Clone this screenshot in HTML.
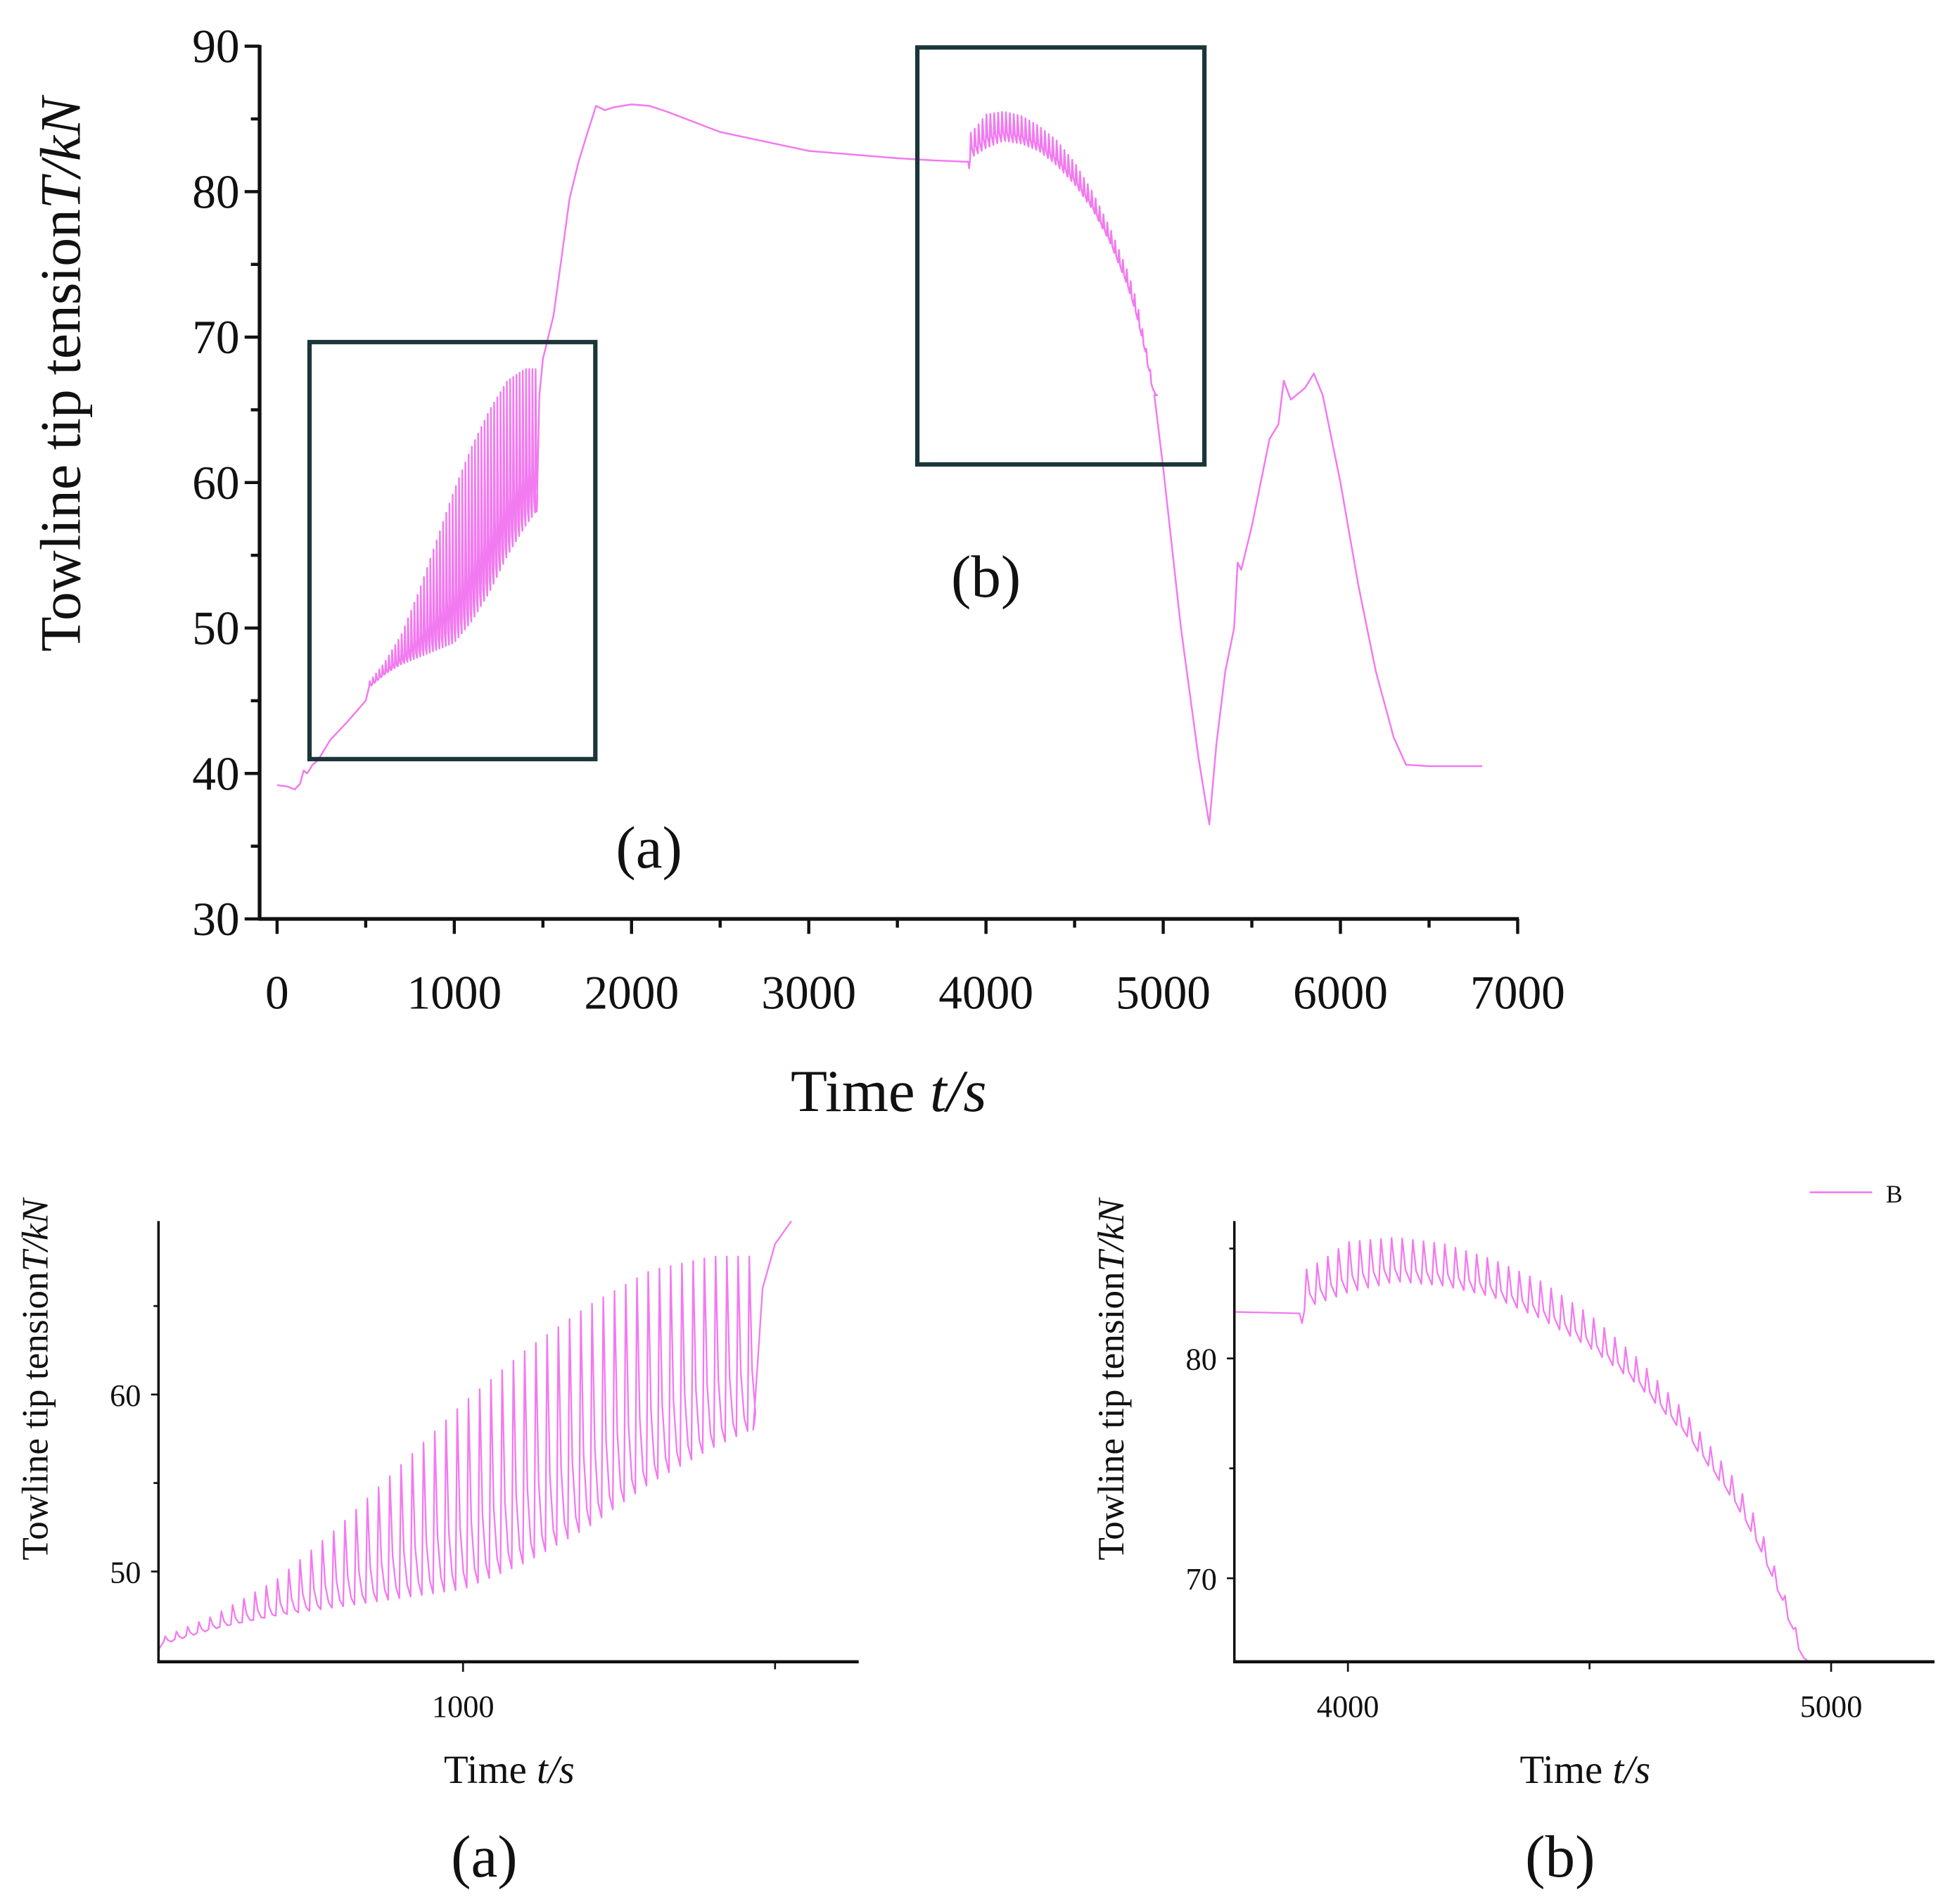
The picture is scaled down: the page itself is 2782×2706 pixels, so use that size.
<!DOCTYPE html>
<html><head><meta charset="utf-8"><style>
html,body{margin:0;padding:0;background:#fff;overflow:hidden;width:2782px;height:2706px;}
svg{display:block;}
text{font-family:"Liberation Serif",serif;fill:#111;}
</style></head><body>
<svg id="fig" width="2782" height="2706" viewBox="0 0 1568 1525" preserveAspectRatio="none" xmlns="http://www.w3.org/2000/svg">
<g id="main"></g>
<g id="insa"></g>
<g id="insb"></g>
</svg>
<script>
// base (non-oscillating) curve: time / tension
const baseT = [0,60,100,130,150,170,200,230,260,300,400,500,600,1465,1480,1500,1530,1560,1600,1650,1700,1750,1800,1850,1900,2000,2100,2200,2500,3000,3500,3700,3900,3905,3910];
const baseV = [39.2,39.1,38.9,39.3,40.2,40.0,40.6,40.9,41.5,42.3,43.6,45.0,46.3,58,66,68.5,70,71.5,75,79.5,82,84,85.9,85.6,85.8,86,85.9,85.5,84.1,82.8,82.3,82.15,82.05,81.6,82.2];
const tailT = [4950,5000,5100,5200,5260,5300,5350,5400,5420,5440,5500,5600,5650,5680,5720,5800,5850,5900,6000,6100,6200,6300,6370,6500,6800];
const tailV = [66,61,50,41,36.5,42,47,50,54.5,54,57,63,64,67,65.7,66.5,67.5,66,60,53,47,42.5,40.6,40.5,40.5];
// oscillation region A envelopes
const envAT = [520,600,700,800,900,1000,1100,1200,1300,1400,1460];
const envAUp = [46.3,47.5,49.5,52.5,56,59.5,62.5,65,67,67.8,67.8];
const envALo = [46,46.8,47.5,48,48.5,49,50.5,52.5,55,57,58];
const periodA = [18];
// oscillation region B envelopes
const envBT = [3910,3950,4000,4100,4200,4300,4400,4500,4600,4700,4800,4850,4900,4950];
const envBUp = [84,84.5,85.3,85.5,85.2,84.5,83.5,82,80,77.5,74.5,72.5,69.5,66.2];
const envBLo = [82.3,82.6,83,83.5,83.3,82.8,81.8,80.5,78.8,76.5,73.5,71.5,69,66];
const periodB = [22];
const mainXTicks = [0,1000,2000,3000,4000,5000,6000,7000];
const mainYTicks = [30,40,50,60,70,80,90];

const NS="http://www.w3.org/2000/svg";
const COL="#f27af0";
function mk(tag,attrs,parent,txt){const e=document.createElementNS(NS,tag);for(const k in attrs)e.setAttribute(k,attrs[k]);if(txt!==undefined)e.textContent=txt;parent.appendChild(e);return e;}
function interp(xs,ys,x){if(x<=xs[0])return ys[0];for(let i=1;i<xs.length;i++){if(x<=xs[i]){const f=(x-xs[i-1])/(xs[i]-xs[i-1]);return ys[i-1]+f*(ys[i]-ys[i-1]);}}return ys[ys.length-1];}
function buildSeries(){
  const pts=[];
  for(let i=0;i<baseT.length;i++){ if(baseT[i]<envAT[0]) pts.push([baseT[i],baseV[i]]); }
  const pA=periodA[0];
  for(let t=envAT[0];t<=envAT[envAT.length-1];t+=pA){
    const lo=interp(envAT,envALo,t), up=interp(envAT,envAUp,t+pA*0.15);
    pts.push([t,lo]);pts.push([t+pA*0.15,up]);
    pts.push([t+pA*0.4,lo+(up-lo)*0.35]);pts.push([t+pA*0.7,lo+(up-lo)*0.1]);
  }
  for(let i=0;i<baseT.length;i++){ if(baseT[i]>envAT[envAT.length-1]) pts.push([baseT[i],baseV[i]]); }
  const pB=periodB[0];
  for(let t=envBT[0];t<=envBT[envBT.length-1];t+=pB){
    const up=interp(envBT,envBUp,t+pB*0.2), lo=interp(envBT,envBLo,t+pB);
    pts.push([t+pB*0.2,up]);pts.push([t+pB*0.5,lo+(up-lo)*0.3]);pts.push([t+pB,lo]);
  }
  for(let i=0;i<tailT.length;i++) pts.push([tailT[i],tailV[i]]);
  return pts;
}
const series=buildSeries();

function axes(g,cfg){
  const sx=t=>cfg.x0+(t-cfg.tmin)/(cfg.tmax-cfg.tmin)*(cfg.x1-cfg.x0);
  const sy=v=>cfg.y1-(v-cfg.vmin)/(cfg.vmax-cfg.vmin)*(cfg.y1-cfg.y0);
  return {sx,sy};
}
function drawLine(g,sx,sy,clipId,box,w){
  const cp=mk('clipPath',{id:clipId},g);mk('rect',{x:box[0],y:box[1],width:box[2],height:box[3]},cp);
  let d="";series.forEach((p)=>{d+=(d?"L":"M")+sx(p[0]).toFixed(2)+","+sy(p[1]).toFixed(2);});
  const pth=mk('path',{d:d,fill:"none",stroke:COL,"stroke-width":w,"clip-path":"url(#"+clipId+")","stroke-linejoin":"round"},g);
  
  
}

// MAIN
(function(){
  const g=document.getElementById('main');
  const {sx,sy}=axes(g,{x0:222,x1:1216,y0:37,y1:736,tmin:0,tmax:7000,vmin:30,vmax:90});
  drawLine(g,sx,sy,'clipMain',[209,20,1010,716],1.4);
  mk('line',{x1:208,y1:36,x2:208,y2:737,stroke:"#111","stroke-width":3},g);
  mk('line',{x1:207,y1:736,x2:1217,y2:736,stroke:"#111","stroke-width":3},g);
  mainYTicks.forEach(v=>{const y=sy(v);mk('line',{x1:196,y1:y,x2:208,y2:y,stroke:"#111","stroke-width":2.5},g);
    const t=mk('text',{x:192,y:y+13,"text-anchor":"end","font-size":38},g,String(v));});
  for(let v=35;v<90;v+=10){const y=sy(v);mk('line',{x1:201,y1:y,x2:208,y2:y,stroke:"#111","stroke-width":2.5},g);}
  mainXTicks.forEach(v=>{const x=sx(v);mk('line',{x1:x,y1:736,x2:x,y2:748,stroke:"#111","stroke-width":2.5},g);
    const t=mk('text',{x:x,y:808,"text-anchor":"middle","font-size":38},g,String(v));});
  for(let v=500;v<7000;v+=1000){const x=sx(v);mk('line',{x1:x,y1:736,x2:x,y2:743,stroke:"#111","stroke-width":2.5},g);}
  const yt=mk('text',{transform:"translate(64,300) rotate(-90)","text-anchor":"middle","font-size":46},g);
  
  yt.innerHTML='Towline tip tension<tspan font-style="italic">T/kN</tspan>';
  const xt=mk('text',{x:712,y:890,"text-anchor":"middle","font-size":48},g);
  
  xt.innerHTML='Time <tspan font-style="italic">t/s</tspan>';
  const ra=mk('rect',{x:248,y:274,width:229,height:334,fill:"none",stroke:"#1b3538","stroke-width":3.5},g);
  const rb=mk('rect',{x:735,y:38,width:230,height:334,fill:"none",stroke:"#1b3538","stroke-width":3.5},g);
  const la=mk('text',{x:520,y:695,"text-anchor":"middle","font-size":48},g,'(a)');
  const lb=mk('text',{x:790,y:478,"text-anchor":"middle","font-size":48},g,'(b)');
})();

function inset(id,cfg){
  const g=document.getElementById(id);
  const {sx,sy}=axes(g,cfg);
  drawLine(g,sx,sy,'clip'+id,[cfg.x0,cfg.y0,cfg.x1-cfg.x0,cfg.y1-cfg.y0],1.3);
  mk('line',{x1:cfg.x0,y1:cfg.y0,x2:cfg.x0,y2:cfg.y1+1,stroke:"#111","stroke-width":2},g);
  mk('line',{x1:cfg.x0-1,y1:cfg.y1,x2:cfg.x1,y2:cfg.y1,stroke:"#111","stroke-width":2.5},g);
  cfg.yt.forEach(v=>{const y=sy(v);mk('line',{x1:cfg.x0-6,y1:y,x2:cfg.x0,y2:y,stroke:"#111","stroke-width":1.5},g);
    const t=mk('text',{x:cfg.x0-14,y:y+9,"text-anchor":"end","font-size":25},g,String(v));});
  cfg.ym.forEach(v=>{const y=sy(v);mk('line',{x1:cfg.x0-4,y1:y,x2:cfg.x0,y2:y,stroke:"#111","stroke-width":1.5},g);});
  cfg.xt.forEach(v=>{const x=sx(v);mk('line',{x1:x,y1:cfg.y1,x2:x,y2:cfg.y1+8,stroke:"#111","stroke-width":1.5},g);
    const t=mk('text',{x:x,y:cfg.y1+44,"text-anchor":"middle","font-size":25},g,String(v));});
  cfg.xm.forEach(v=>{const x=sx(v);mk('line',{x1:x,y1:cfg.y1,x2:x,y2:cfg.y1+6,stroke:"#111","stroke-width":1.5},g);});
  const yt=mk('text',{transform:"translate("+(cfg.x0-89)+",1105) rotate(-90)","text-anchor":"middle","font-size":30},g);
  
  yt.innerHTML='Towline tip tension<tspan font-style="italic">T/kN</tspan>';
  const xt=mk('text',{x:cfg.xc,y:1428,"text-anchor":"middle","font-size":32},g);
  
  xt.innerHTML='Time <tspan font-style="italic">t/s</tspan>';
  const l=mk('text',{x:cfg.xc-20,y:1503,"text-anchor":"middle","font-size":48},g,cfg.lab);
  return g;
}
inset('insa',{x0:127,x1:688,y0:978,y1:1331,tmin:512,tmax:1634,vmin:44.9,vmax:69.8,yt:[50,60],ym:[55,65],xt:[1000],xm:[1500],xc:408,lab:'(a)'});
const gb=inset('insb',{x0:989,x1:1550,y0:978,y1:1331,tmin:3765,tmax:5214,vmin:66.2,vmax:86.25,yt:[70,80],ym:[75,85],xt:[4000,5000],xm:[4500],xc:1270,lab:'(b)'});
const lg=mk('line',{x1:1450,y1:955,x2:1500,y2:955,stroke:COL,"stroke-width":1.5},gb);
const lt=mk('text',{x:1511,y:963,"font-size":20},gb,'B');
</script>
</body></html>
